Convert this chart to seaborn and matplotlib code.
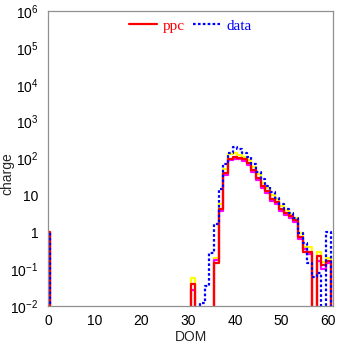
import numpy as np
import matplotlib
matplotlib.use("Agg")
import matplotlib.pyplot as plt
import seaborn as sns
from matplotlib.ticker import FixedLocator, FixedFormatter, LogLocator, MultipleLocator, NullFormatter

# ---- data (per DOM, 0..60) ----
dom = list(range(61))
ppc = [1] + [0]*30 + [0.04, 0, 0, 0, 0, 0.15, 4.3, 40, 100, 110,
       105, 95, 75, 50, 30, 18, 13, 8, 6.5, 4.3,
       3.3, 2.8, 2.1, 0.75, 0.3, 0.3, 0, 0.22, 0.13, 0.17]
ppc_hi = [1] + [0]*30 + [0.058, 0, 0, 0, 0, 0.2, 5.8, 52, 130, 140,
          125, 110, 90, 60, 38, 22, 16, 10, 8, 5,
          4, 3.2, 2.4, 0.95, 0.4, 0.4, 0, 0.3, 0.16, 0.2]
ppc_lo = [1] + [0]*30 + [0.028, 0, 0, 0, 0, 0.18, 3.8, 36, 90, 100,
          95, 85, 68, 44, 26, 16, 11.5, 7, 5.8, 3.8,
          3, 2.5, 1.9, 0.65, 0.35, 0.26, 0, 0.17, 0.1, 0.15]
data = [1] + [0]*30 + [0, 0, 0.012, 0.035, 0.27, 1.67, 14.5, 73, 138, 205,
        180, 140, 110, 70, 42, 27, 18, 12, 8.5, 5.8,
        4.3, 3.4, 2.5, 0.93, 0.5, 0.15, 0.062, 0.077, 0, 1]
ytick_vals = [1e-2, 1e-1, 1, 10, 1e2, 1e3, 1e4, 1e5, 1e6]
ytick_labels = [r"$10^{-2}$", r"$10^{-1}$", "1", "10", r"$10^{2}$", r"$10^{3}$",
                r"$10^{4}$", r"$10^{5}$", r"$10^{6}$"]
xtick_vals = [0, 10, 20, 30, 40, 50, 60]

sns.set_style("white")
plt.rcParams["font.family"] = ["Liberation Sans", "DejaVu Sans"]
plt.rcParams["mathtext.fontset"] = "custom"
plt.rcParams["mathtext.rm"] = "Liberation Sans"
plt.rcParams["mathtext.it"] = "Liberation Sans"

fig = plt.figure(figsize=(3.37, 3.44), dpi=100)
ax = fig.add_axes([48/337, 38/344, 285/337, 295/344])

FLOOR = 1e-4
def steps(vals):
    x = [d - 0.5 for d in dom] + [dom[-1] + 0.5]
    y = [v if v > 0 else FLOOR for v in vals] + [FLOOR]
    return x, y

ax.set_yscale("log")
for vals, col, ls, lab in [(ppc_hi, "#ffff00", "-", None),
                           (ppc_lo, "#ff00ff", "-", None),
                           (ppc, "#ff0000", "-", "ppc"),
                           (data, "#0000ff", (0, (1.2, 1.0)), "data")]:
    x, y = steps(vals)
    sns.lineplot(x=x, y=y, ax=ax, estimator=None, sort=False, color=col,
                 linestyle=ls, linewidth=1.6, drawstyle="steps-post",
                 label=lab, legend=False if lab is None else "auto")

ax.set_xlim(0, 61)
ax.set_ylim(1e-2, 1e6)
ax.yaxis.set_major_locator(FixedLocator(ytick_vals))
ax.yaxis.set_major_formatter(FixedFormatter(ytick_labels))
ax.yaxis.set_minor_locator(LogLocator(base=10, subs=np.arange(2, 10)))
ax.yaxis.set_minor_formatter(NullFormatter())
ax.xaxis.set_major_locator(FixedLocator(xtick_vals))
ax.xaxis.set_minor_locator(MultipleLocator(2))

ax.tick_params(axis="both", which="both", direction="in", colors="#808080",
               labelcolor="black", labelsize=10)
ax.tick_params(axis="both", which="major", length=5, width=0.8)
ax.tick_params(axis="both", which="minor", length=2.5, width=0.6)
ax.tick_params(axis="y", which="major", pad=7)
ax.tick_params(axis="x", which="major", pad=6)
for s in ax.spines.values():
    s.set_color("#909090")
    s.set_linewidth(0.9)

ax.set_xlabel("DOM", fontsize=10)
ax.set_ylabel("charge", fontsize=10)
ax.yaxis.set_label_coords(-0.118, 0.45)
ax.xaxis.set_label_coords(0.5, -0.08)

leg = ax.legend(loc="upper center", bbox_to_anchor=(0.5, 1.02), ncol=2,
                frameon=False, handlelength=1.8, handletextpad=0.4,
                columnspacing=0.5, prop={"family": "Liberation Serif", "size": 11})
for t, c in zip(leg.get_texts(), ["#ff0000", "#0000ff"]):
    t.set_color(c)

fig.savefig("out.png", dpi=100)
